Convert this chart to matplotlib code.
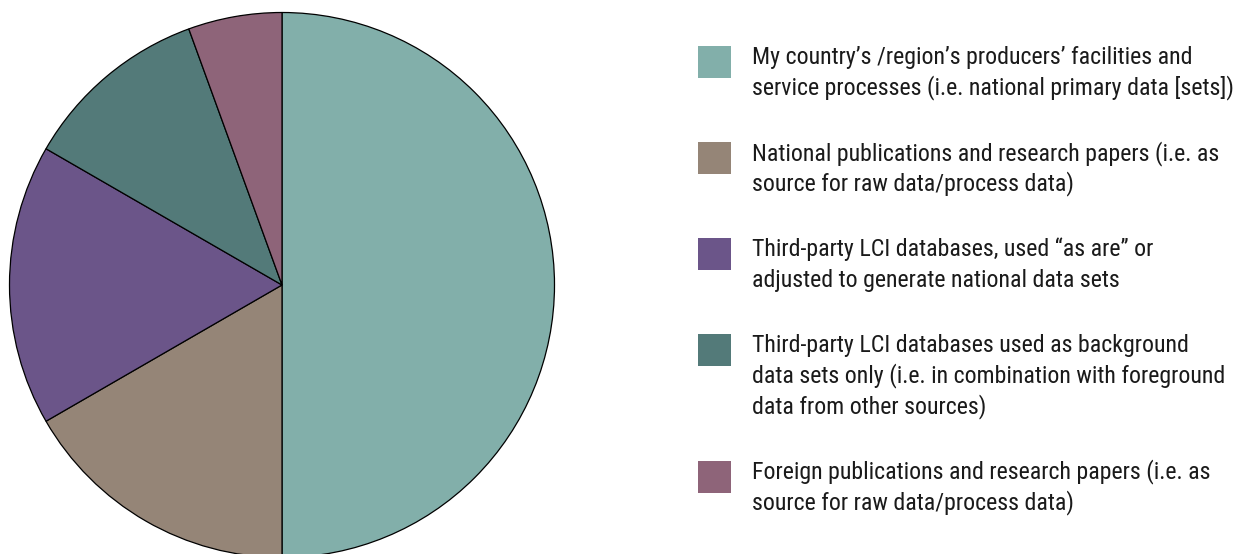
import matplotlib
matplotlib.use('Agg')
import matplotlib.pyplot as plt
from matplotlib.patches import Rectangle
from matplotlib import font_manager
from matplotlib.font_manager import FontProperties

# Data (shares of answers)
labels = [
    "My country\u2019s /region\u2019s producers\u2019 facilities and\nservice processes (i.e. national primary data [sets])",
    "National publications and research papers (i.e. as\nsource for raw data/process data)",
    "Third-party LCI databases, used \u201cas are\u201d or\nadjusted to generate national data sets",
    "Third-party LCI databases used as background\ndata sets only (i.e. in combination with foreground\ndata from other sources)",
    "Foreign publications and research papers (i.e. as\nsource for raw data/process data)",
]
values = [9, 3, 3, 2, 1]
colors = ['#82afaa', '#958577', '#6b5589', '#537a79', '#8e6479']

# look for a condensed face (reference uses a Helvetica Condensed look)
wanted = ['LiberationSansNarrow-Regular', 'RobotoCondensed-Regular',
          'OpenSans_Condensed-Regular', 'OpenSansCondensed', 'DejaVuSansCondensed.']
fname = None
files = [f.fname for f in font_manager.fontManager.ttflist]
for w in wanted:
    hits = [f for f in files if w in f.replace('\\', '/').split('/')[-1]]
    if hits:
        fname = hits[0]
        break
if fname is None:
    hits = [f for f in files if ('Condensed' in f or 'Narrow' in f) and 'Bold' not in f
            and 'Italic' not in f and 'Oblique' not in f]
    fname = hits[0] if hits else None
fp = FontProperties(fname=fname) if fname else FontProperties(family='DejaVu Sans')

W, H = 1239, 554
fig = plt.figure(figsize=(W / 100, H / 100), dpi=100)

# pie placed in pixel coords
cx, cy, r = 282, 285, 272.5
ax = fig.add_axes([(cx - r) / W, (H - cy - r) / H, 2 * r / W, 2 * r / H])
ax.pie(values, colors=colors, startangle=90, counterclock=False, radius=1,
       wedgeprops=dict(edgecolor='black', linewidth=0.9))
ax.set_xlim(-1, 1)
ax.set_ylim(-1, 1)
ax.set_aspect('equal')
ax.axis('off')

# size the font so the widest legend line is ~477 px like the reference
renderer = fig.canvas.get_renderer()
probe = fig.text(0, 0, labels[0].split('\n')[1], fontproperties=fp, fontsize=10)
wpx = probe.get_window_extent(renderer).width
probe.remove()
fs = min(10 * 477 / wpx, 18)

# legend drawn by hand so squares line up with first text line
line_h = 30.5
top = 47
for lab, col in zip(labels, colors):
    lines = lab.split('\n')
    fig.patches.append(Rectangle((698 / W, (H - top - 31) / H), 33 / W, 32 / H,
                                 transform=fig.transFigure, facecolor=col,
                                 edgecolor='none'))
    for i, ln in enumerate(lines):
        base = top + 17 + i * line_h
        fig.text(752 / W, (H - base) / H, ln, fontproperties=fp, fontsize=fs,
                 color='#1a1a1a', ha='left', va='baseline')
    top += len(lines) * line_h + 35

fig.savefig('out.png', dpi=100)
